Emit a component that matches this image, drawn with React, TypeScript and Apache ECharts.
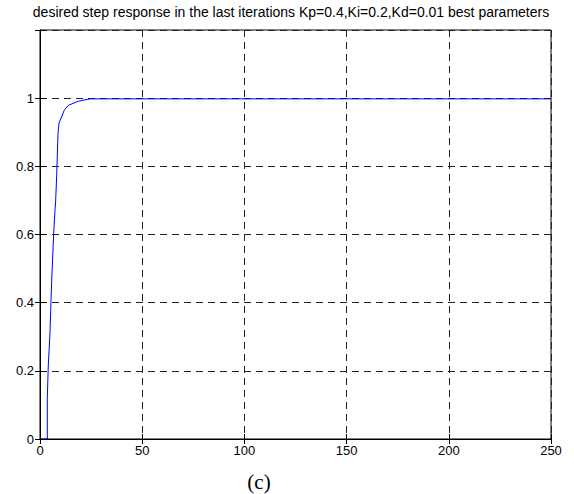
import React, { useEffect, useRef } from "react";
import * as echarts from "echarts";

const titleText = "desired step response in the last iterations Kp=0.4,Ki=0.2,Kd=0.01 best parameters";
const captionText = "(c)";
const stepX = [0, 3.57, 3.57, 4.06, 4.89, 5.23, 5.72, 6.21, 6.7, 7.34, 7.68, 8.17, 8.81, 9.3, 11.9, 13.9, 18.7, 24.5, 50, 100, 150, 200, 250];
const stepY = [0, 0, 0.12, 0.217, 0.311, 0.378, 0.466, 0.534, 0.604, 0.672, 0.701, 0.774, 0.897, 0.927, 0.965, 0.979, 0.991, 0.998, 0.998, 0.998, 0.998, 0.998, 0.998];

export default function App() {
  const ref = useRef<HTMLDivElement>(null);
  useEffect(() => {
    if (!ref.current) return;
    const chart = echarts.init(ref.current, null, { renderer: "svg" });
    const font = "Liberation Sans, Arial, sans-serif";
    const gridLine = { show: true, lineStyle: { color: "#222", type: [7, 5] as any, width: 1 } };
    chart.setOption({
      animation: false,
      backgroundColor: "#fff",
      grid: { left: 40, right: 23, top: 30, bottom: 55, show: true, borderColor: "#000", borderWidth: 1, backgroundColor: "transparent" },
      graphic: [
        { type: "text", x: 291, y: 12, style: { text: titleText, font: `14px ${font}`, fill: "#000", textAlign: "center", textVerticalAlign: "middle" } },
        { type: "text", x: 259, y: 482, style: { text: captionText, font: "21px 'Liberation Serif', 'Times New Roman', serif", fill: "#000", textAlign: "center", textVerticalAlign: "middle" } },
      ],
      xAxis: [
        {
          type: "value", min: 0, max: 250, interval: 50,
          axisLine: { show: true, lineStyle: { color: "#000", width: 1 } },
          axisTick: { show: true, inside: true, length: 5, lineStyle: { color: "#000" } },
          axisLabel: { color: "#000", fontSize: 13, fontFamily: font, margin: 5 },
          splitLine: gridLine,
        },
        {
          type: "value", position: "top", min: 0, max: 250, interval: 50,
          axisLine: { show: true, lineStyle: { color: "#000" } },
          axisTick: { show: true, inside: true, length: 5, lineStyle: { color: "#000" } },
          axisLabel: { show: false }, splitLine: { show: false },
        },
      ],
      yAxis: [
        {
          type: "value", min: 0, max: 1.2, interval: 0.2,
          axisLine: { show: true, lineStyle: { color: "#000", width: 1 } },
          axisTick: { show: true, inside: true, length: 5, lineStyle: { color: "#000" } },
          axisLabel: {
            color: "#000", fontSize: 13, fontFamily: font, margin: 6,
            formatter: (v: number) => (Math.abs(v - 1.2) < 1e-6 ? "" : String(Math.round(v * 10) / 10)),
          },
          splitLine: gridLine,
        },
        {
          type: "value", position: "right", min: 0, max: 1.2, interval: 0.2,
          axisLine: { show: true, lineStyle: { color: "#000" } },
          axisTick: { show: true, inside: true, length: 5, lineStyle: { color: "#000" } },
          axisLabel: { show: false }, splitLine: { show: false },
        },
      ],
      series: [
        {
          type: "line",
          data: stepX.map((x, i) => [x, stepY[i]]),
          showSymbol: false,
          lineStyle: { color: "#0000ff", width: 1 },
          z: 5,
        },
      ],
    });
    return () => chart.dispose();
  }, []);
  return <div ref={ref} style={{ position: "fixed", left: 0, top: 0, width: 574, height: 494 }} />;
}
